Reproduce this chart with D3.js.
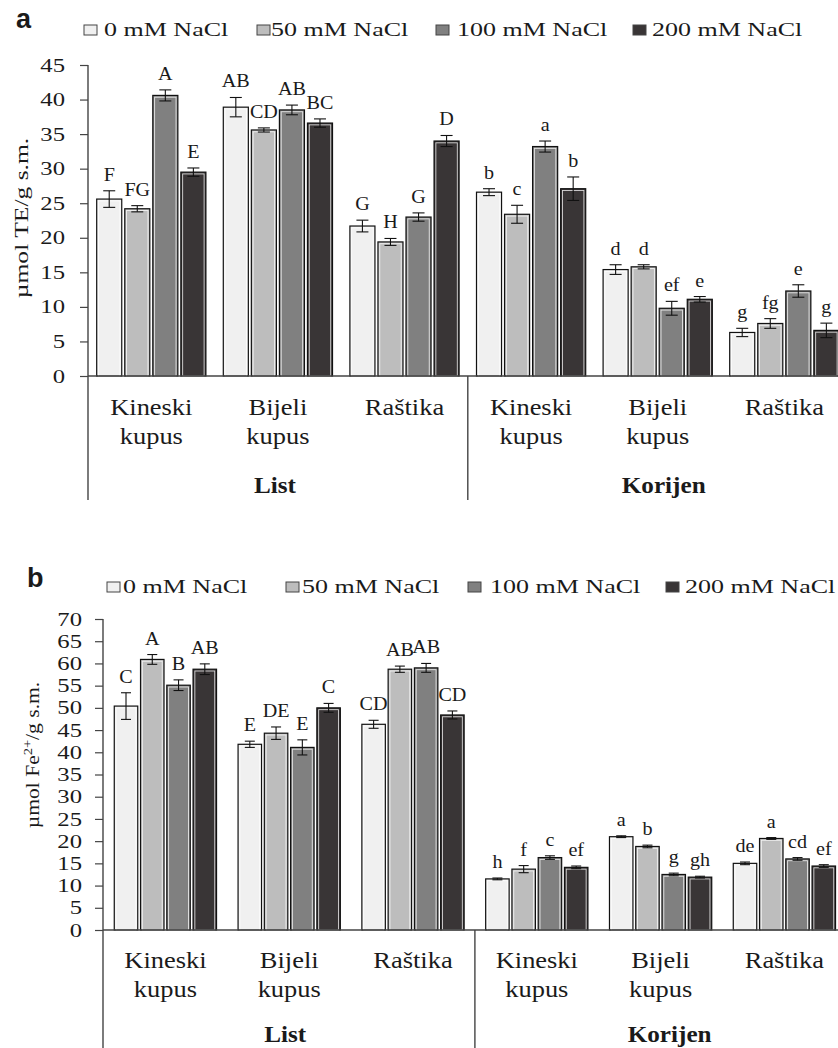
<!DOCTYPE html>
<html><head><meta charset="utf-8">
<script src="https://cdn.jsdelivr.net/npm/d3@7"></script>
<style>body{margin:0;background:#fff} svg{display:block;background:#fff}</style>
</head><body>
<svg id="c" width="838" height="1048"></svg>
<script>
// ---------- DATA ----------
const categoryLines = [["Kineski","kupus"],["Bijeli","kupus"],["Raštika"],["Kineski","kupus"],["Bijeli","kupus"],["Raštika"]];
const organs = ["List","Korijen"];
const series = ["0 mM NaCl","50 mM NaCl","100 mM NaCl","200 mM NaCl"];
const seriesColors = ["#f0f0f0","#bdbdbd","#808080","#393536"];

// Panel a: µmol TE/g s.m.
const aTicks = [0,5,10,15,20,25,30,35,40,45];
const a0  = [25.6, 38.9, 21.7, 26.6, 15.4, 6.3];
const a50 = [24.2, 35.6, 19.4, 23.4, 15.8, 7.6];
const a100= [40.6, 38.5, 23.0, 33.2,  9.8, 12.3];
const a200= [29.5, 36.6, 34.0, 27.1, 11.1, 6.6];
const aErr0  = [1.2, 1.4, 0.85, 0.5, 0.7, 0.6];
const aErr50 = [0.45,0.3, 0.5, 1.3, 0.3, 0.7];
const aErr100= [0.8, 0.7, 0.6, 0.8, 1.0, 0.9];
const aErr200= [0.6, 0.6, 0.8, 1.7, 0.4, 1.05];
const aLet0  = ["F","AB","G","b","d","g"];
const aLet50 = ["FG","CD","H","c","d","fg"];
const aLet100= ["A","AB","G","a","ef","e"];
const aLet200= ["E","BC","D","b","e","g"];

// Panel b: µmol Fe2+/g s.m.
const bTicks = [0,5,10,15,20,25,30,35,40,45,50,55,60,65,70];
const b0  = [50.4, 41.8, 46.3, 11.5, 21.0, 15.0];
const b50 = [60.9, 44.3, 58.7, 13.7, 18.8, 20.6];
const b100= [55.1, 41.1, 59.0, 16.3, 12.5, 16.0];
const b200= [58.7, 50.0, 48.4, 14.1, 11.9, 14.4];
const bErr0  = [3.0, 0.7, 0.9, 0.2, 0.2, 0.3];
const bErr50 = [1.1, 1.4, 0.7, 0.8, 0.3, 0.2];
const bErr100= [1.2, 1.7, 1.0, 0.4, 0.3, 0.3];
const bErr200= [1.2, 1.0, 0.9, 0.3, 0.2, 0.3];
const bLet0  = ["C","E","CD","h","a","de"];
const bLet50 = ["A","DE","AB","f","b","a"];
const bLet100= ["B","E","AB","c","g","cd"];
const bLet200= ["AB","C","CD","ef","gh","ef"];

// ---------- DRAW ----------
const svg = d3.select("#c");
const SERIF = "'Liberation Serif','Times New Roman',serif";
const SANS = "'Liberation Sans',Arial,sans-serif";
const INK = "#1a1a1a";

function stext(g, x, y, str, o) {
  o = Object.assign({size:19, sx:1.3, anchor:"middle", weight:"normal", family:SERIF, rotate:0}, o||{});
  return g.append("text")
    .attr("transform", `translate(${x},${y})` + (o.rotate ? ` rotate(${o.rotate})` : "") + ` scale(${o.sx},1)`)
    .attr("text-anchor", o.anchor).attr("font-family", o.family)
    .attr("font-size", o.size).attr("font-weight", o.weight).attr("fill", INK)
    .text(str);
}

function drawChart(c) {
  const g = svg.append("g");
  const x0 = d3.scaleBand().domain(d3.range(categoryLines.length)).range(c.xRange).padding(0);
  const x1 = d3.scaleBand().domain(series).range([0, x0.bandwidth()])
    .paddingInner(c.padIn).paddingOuter(c.padOut);
  const y = d3.scaleLinear().domain([0, d3.max(c.ticks)]).range([c.y0, c.yTop]);

  // panel letter
  stext(g, c.panel[1], c.panel[2], c.panel[0], {size:27, sx:1, anchor:"start", weight:"bold", family:SANS});

  // legend
  series.forEach((s, k) => {
    g.append("rect").attr("x", c.legBox[k]).attr("y", c.legY - 11).attr("width", c.legW).attr("height", 10)
      .attr("fill", seriesColors[k]).attr("stroke", "#444").attr("stroke-width", 1);
    stext(g, c.legText[k], c.legY, s, {size:19, sx:1.37, anchor:"start"});
  });

  // bars
  series.forEach((s, k) => {
    const vals = c.values[k], errs = c.errs[k], lets = c.letters[k];
    vals.forEach((v, i) => {
      const bx = x0(i) + x1(s), bw = x1.bandwidth();
      const top = y(v);
      g.append("rect").attr("x", bx).attr("y", top).attr("width", bw).attr("height", c.y0 - top)
        .attr("fill", seriesColors[k]).attr("stroke", "#111").attr("stroke-width", 1.2);
      g.append("rect").attr("x", bx + 1.8).attr("y", top + 1.8).attr("width", Math.max(0, bw - 3.6))
        .attr("height", Math.max(0, c.y0 - top - 1.8)).attr("fill", "none")
        .attr("stroke", "#fff").attr("stroke-width", 0.9).attr("stroke-opacity", 0.8);
      const cx = bx + bw / 2, e = errs[i];
      const yh = y(v + e), yl = y(v - e);
      g.append("line").attr("x1", cx).attr("x2", cx).attr("y1", yh).attr("y2", yl).attr("stroke", "#111").attr("stroke-width", 1.1);
      [yh, yl].forEach(yy => g.append("line").attr("x1", cx - c.cap).attr("x2", cx + c.cap)
        .attr("y1", yy).attr("y2", yy).attr("stroke", "#111").attr("stroke-width", 1.1));
      stext(g, cx, yh - c.letGap, lets[i], {size:19, sx:1.06});
    });
  });

  // y axis
  const ax = g.append("g").attr("transform", `translate(${c.axisX},0)`)
    .call(d3.axisLeft(y).tickValues(c.ticks).tickSize(8).tickSizeOuter(0).tickPadding(c.tickPad));
  ax.select(".domain").remove();
  ax.selectAll(".tick line").attr("stroke", "#444").attr("stroke-width", 1.2);
  ax.selectAll(".tick text")
    .attr("x", -(8 + c.tickPad) / c.tickSx)
    .attr("transform", `scale(${c.tickSx},1)`)
    .attr("font-family", SERIF).attr("font-size", 19).attr("fill", INK);

  // axis lines
  g.append("line").attr("x1", c.axisX).attr("x2", c.axisX).attr("y1", c.yTop).attr("y2", c.axisBottom)
    .attr("stroke", "#444").attr("stroke-width", 1.4);
  g.append("line").attr("x1", c.axisX).attr("x2", 838).attr("y1", c.y0).attr("y2", c.y0)
    .attr("stroke", "#444").attr("stroke-width", 1.4);
  const sepX = x0(3);
  g.append("line").attr("x1", sepX).attr("x2", sepX).attr("y1", c.y0).attr("y2", c.axisBottom)
    .attr("stroke", "#444").attr("stroke-width", 1.4);

  // category labels
  categoryLines.forEach((lines, i) => {
    const cx = x0(i) + x0.bandwidth() / 2;
    lines.forEach((ln, j) => stext(g, cx, c.catY + j * 29, ln, {size:23, sx:1.15}));
  });
  // organ labels
  organs.forEach((o, m) => {
    const cx = x0(m * 3 + 1) + x0.bandwidth() / 2 + c.organOff[m];
    stext(g, cx, c.organY, o, {size:24, sx:1.05, weight:"bold"});
  });

  // y title
  const t = g.append("text")
    .attr("transform", `translate(${c.yTitle[0]},${c.yTitle[1]}) rotate(-90) scale(${c.yTitleSx},1)`)
    .attr("text-anchor", "middle").attr("font-family", SERIF).attr("font-size", 18).attr("fill", INK);
  c.yTitleParts.forEach(p => {
    const ts = t.append("tspan").text(p.t);
    if (p.sup) ts.attr("dy", -7).attr("font-size", 12);
    if (p.after) ts.attr("dy", 7);
  });
}

drawChart({
  panel:["a", 16, 28],
  legY:36, legW:13, legBox:[84,257,436,633], legText:[104,271,457,652],
  values:[a0,a50,a100,a200], errs:[aErr0,aErr50,aErr100,aErr200], letters:[aLet0,aLet50,aLet100,aLet200],
  ticks:aTicks, y0:376, yTop:65, axisX:88, axisBottom:500, tickPad:15, tickSx:1.3,
  xRange:[88, 88 + 6 * 126.6], padIn:0.107, padOut:0.31, cap:6, letGap:10,
  catY:415, organY:493, organOff:[-3, 6],
  yTitle:[28, 218], yTitleSx:1.42, yTitleParts:[{t:"µmol TE/g s.m."}]
});

drawChart({
  panel:["b", 27, 587],
  legY:593, legW:13, legBox:[107,286,468,666], legText:[123,302,490,685],
  values:[b0,b50,b100,b200], errs:[bErr0,bErr50,bErr100,bErr200], letters:[bLet0,bLet50,bLet100,bLet200],
  ticks:bTicks, y0:930, yTop:619, axisX:103, axisBottom:1048, tickPad:13, tickSx:1.3,
  xRange:[103.5, 103.5 + 6 * 123.8], padIn:0.106, padOut:0.41, cap:5, letGap:10,
  catY:968, organY:1042, organOff:[-4, 9],
  yTitle:[39, 755], yTitleSx:1.2, yTitleParts:[{t:"µmol Fe"},{t:"2+", sup:true},{t:"/g s.m.", after:true}]
});
</script>
</body></html>
